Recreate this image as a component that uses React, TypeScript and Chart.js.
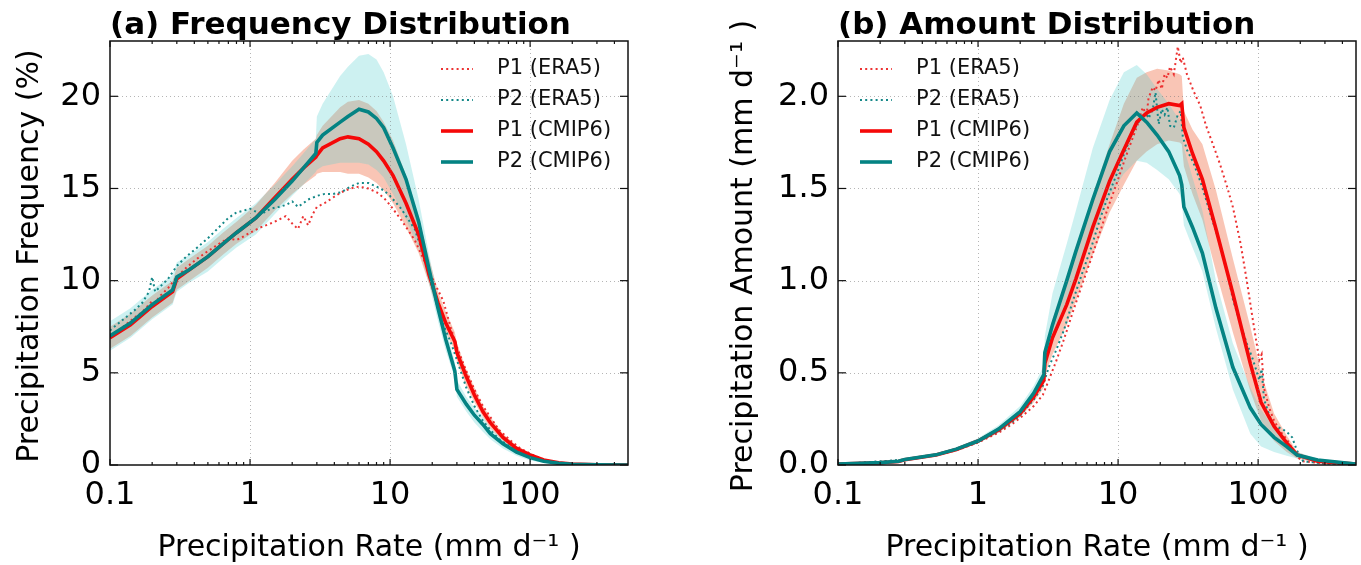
import React, { useEffect, useRef } from 'react';
import { Chart, registerables } from 'chart.js';

Chart.register(...registerables);

// ---------------- data ----------------
const SERIES_LABELS = ['P1 (ERA5)', 'P2 (ERA5)', 'P1 (CMIP6)', 'P2 (CMIP6)'];

const X_TICKS = [0.1, 1, 10, 100];
const X_TICK_LABELS = ['0.1', '1', '10', '100'];
const X_MINOR_TICKS = [0.2, 0.3, 0.4, 0.5, 0.6, 0.7, 0.8, 0.9, 2, 3, 4, 5, 6, 7, 8, 9, 20, 30, 40, 50, 60, 70, 80, 90, 200, 300, 400];

const FREQ_Y_TICKS = [0, 5, 10, 15, 20];
const FREQ_Y_LABELS = ['0', '5', '10', '15', '20'];
const AMT_Y_TICKS = [0, 0.5, 1, 1.5, 2];
const AMT_Y_LABELS = ['0.0', '0.5', '1.0', '1.5', '2.0'];

// Panel (a): frequency distribution (%), CMIP6 grid
const RATE_A = [0.1, 0.14, 0.2, 0.28, 0.3, 0.37, 0.5, 0.64, 0.8, 1.1, 1.5, 2, 2.4, 2.95, 3.0, 3.3, 4.4, 5, 6, 7, 8, 9, 10.5, 13, 16, 19, 22, 25, 29, 30, 35, 40, 46, 52, 64, 80, 100, 125, 160, 200, 300, 500];
const P1_CMIP6_FREQ = [6.9, 7.6, 8.6, 9.4, 10.1, 10.6, 11.3, 12.0, 12.6, 13.4, 14.5, 15.5, 16.1, 16.7, 16.8, 17.2, 17.7, 17.8, 17.7, 17.4, 17.0, 16.5, 15.7, 14.2, 12.5, 10.3, 8.8, 7.7, 6.7, 6.1, 4.8, 3.8, 2.9, 2.3, 1.5, 0.9, 0.55, 0.27, 0.12, 0.05, 0.015, 0.005];
const P2_CMIP6_FREQ = [7.0, 7.7, 8.7, 9.5, 10.2, 10.6, 11.3, 12.0, 12.6, 13.4, 14.4, 15.4, 16.1, 16.9, 17.5, 17.9, 18.6, 18.9, 19.3, 19.15, 18.8, 18.3, 17.2, 15.5, 13.2, 10.6, 8.5, 6.8, 5.1, 4.1, 3.3, 2.7, 2.2, 1.7, 1.15, 0.7, 0.4, 0.2, 0.09, 0.04, 0.01, 0.004];
const P1_CMIP6_FREQ_LO = [6.3, 7.0, 8.0, 8.8, 9.5, 10.0, 10.7, 11.4, 12.0, 12.7, 13.8, 14.7, 15.2, 15.7, 15.8, 15.9, 15.9, 15.8, 15.8, 15.6, 15.3, 14.9, 14.2, 12.9, 11.5, 9.8, 8.3, 7.2, 6.2, 5.6, 4.3, 3.4, 2.6, 2.0, 1.3, 0.75, 0.45, 0.2, 0.08, 0.03, 0.01, 0.002];
const P1_CMIP6_FREQ_HI = [7.5, 8.2, 9.2, 10.0, 10.7, 11.2, 11.9, 12.6, 13.2, 14.1, 15.3, 16.5, 17.1, 17.7, 17.9, 18.4, 19.4, 19.7, 19.8, 19.6, 19.2, 18.6, 17.6, 15.7, 13.4, 11.2, 9.4, 8.3, 7.2, 6.6, 5.2, 4.2, 3.2, 2.6, 1.7, 1.05, 0.65, 0.34, 0.16, 0.07, 0.02, 0.008];
const P2_CMIP6_FREQ_LO = [6.2, 6.9, 7.9, 8.7, 9.4, 9.9, 10.5, 11.2, 11.8, 12.5, 13.6, 14.6, 15.2, 15.9, 16.0, 16.2, 16.4, 16.4, 16.4, 16.3, 16.0, 15.6, 14.7, 13.3, 11.8, 9.8, 7.8, 6.2, 4.7, 3.7, 2.9, 2.3, 1.8, 1.4, 0.9, 0.5, 0.25, 0.12, 0.05, 0.02, 0.005, 0.001];
const P2_CMIP6_FREQ_HI = [7.8, 8.5, 9.5, 10.3, 11.0, 11.4, 12.1, 12.8, 13.4, 14.2, 15.2, 16.2, 16.9, 17.7, 18.9, 19.6, 21.1, 21.6, 22.2, 22.3, 22.0, 21.3, 20.0, 17.4, 14.4, 11.4, 9.1, 7.4, 5.6, 4.6, 3.7, 3.1, 2.6, 2.0, 1.4, 0.9, 0.55, 0.3, 0.14, 0.06, 0.02, 0.007];

// Panel (a): ERA5 grid
const RATE_ERA_A = [0.1, 0.12, 0.15, 0.17, 0.19, 0.2, 0.21, 0.23, 0.26, 0.3, 0.35, 0.42, 0.5, 0.6, 0.7, 0.8, 0.9, 1.0, 1.2, 1.4, 1.6, 1.8, 2.0, 2.2, 2.4, 2.6, 2.8, 3.0, 3.4, 3.9, 4.5, 5.2, 6, 7, 8, 9, 10, 12, 15, 18, 21, 24, 27, 30, 35, 40, 46, 52, 60, 72, 85, 105, 130, 160, 200, 300, 500];
const P1_ERA5_FREQ = [7.0, 7.4, 8.0, 8.3, 8.7, 8.9, 8.8, 9.2, 9.6, 10.2, 10.7, 11.2, 11.6, 12.0, 12.3, 12.2, 12.4, 12.6, 12.9, 13.1, 13.3, 13.5, 13.1, 12.8, 13.5, 13.0, 13.6, 14.0, 14.2, 14.5, 14.8, 15.0, 15.1, 15.0, 14.8, 14.5, 14.1, 13.3, 12.2, 10.9, 9.8, 8.9, 7.5, 6.4, 5.1, 4.1, 3.2, 2.6, 1.9, 1.35, 0.9, 0.54, 0.25, 0.1, 0.04, 0.01, 0.003];
const P2_ERA5_FREQ = [7.3, 7.8, 8.4, 8.8, 9.4, 10.2, 9.4, 9.7, 10.1, 10.8, 11.3, 11.8, 12.3, 12.9, 13.4, 13.7, 13.8, 13.9, 13.6, 13.9, 14.0, 14.1, 14.3, 14.0, 14.2, 14.4, 14.5, 14.6, 14.7, 14.7, 14.8, 15.1, 15.3, 15.3, 15.1, 14.9, 14.6, 13.9, 12.8, 11.0, 9.0, 7.6, 6.7, 5.7, 4.2, 3.2, 2.4, 1.9, 1.4, 1.0, 0.65, 0.4, 0.2, 0.08, 0.03, 0.01, 0.003];

// Panel (b): amount distribution (mm/d), CMIP6 grid
const RATE_B = [0.1, 0.2, 0.27, 0.3, 0.5, 0.7, 1.0, 1.4, 2.0, 2.5, 2.95, 3.0, 3.4, 4.3, 5, 6.6, 8.7, 11, 13.6, 16, 19, 23, 27.5, 28.5, 29.5, 34, 40, 50, 66, 88, 105, 130, 160, 190, 266, 500];
const P1_CMIP6_AMT = [0.005, 0.012, 0.019, 0.028, 0.054, 0.084, 0.13, 0.19, 0.28, 0.37, 0.46, 0.55, 0.69, 0.87, 1.01, 1.29, 1.54, 1.71, 1.86, 1.91, 1.94, 1.96, 1.95, 1.96, 1.83, 1.69, 1.55, 1.28, 0.93, 0.55, 0.34, 0.21, 0.12, 0.055, 0.02, 0.005];
const P2_CMIP6_AMT = [0.005, 0.013, 0.02, 0.03, 0.055, 0.086, 0.13, 0.195, 0.29, 0.39, 0.49, 0.61, 0.76, 1.0, 1.16, 1.44, 1.70, 1.84, 1.91, 1.86, 1.79, 1.70, 1.57, 1.52, 1.40, 1.29, 1.15, 0.85, 0.53, 0.31, 0.22, 0.15, 0.10, 0.054, 0.027, 0.005];
const P1_CMIP6_AMT_LO = [0.003, 0.009, 0.015, 0.023, 0.048, 0.076, 0.12, 0.175, 0.26, 0.34, 0.42, 0.49, 0.6, 0.76, 0.89, 1.14, 1.37, 1.52, 1.65, 1.7, 1.74, 1.76, 1.75, 1.74, 1.62, 1.47, 1.33, 1.05, 0.72, 0.4, 0.24, 0.13, 0.07, 0.035, 0.012, 0.002];
const P1_CMIP6_AMT_HI = [0.007, 0.015, 0.023, 0.033, 0.06, 0.092, 0.14, 0.205, 0.30, 0.40, 0.50, 0.62, 0.79, 1.0, 1.16, 1.46, 1.74, 1.96, 2.1, 2.13, 2.15, 2.14, 2.12, 2.11, 1.92, 1.82, 1.74, 1.49, 1.12, 0.75, 0.5, 0.28, 0.16, 0.07, 0.03, 0.008];
const P2_CMIP6_AMT_LO = [0.003, 0.010, 0.016, 0.025, 0.048, 0.077, 0.12, 0.175, 0.26, 0.35, 0.44, 0.55, 0.67, 0.86, 1.0, 1.25, 1.46, 1.58, 1.65, 1.64, 1.60, 1.55, 1.47, 1.43, 1.30, 1.18, 1.05, 0.74, 0.41, 0.17, 0.1, 0.07, 0.05, 0.035, 0.015, 0.002];
const P2_CMIP6_AMT_HI = [0.008, 0.016, 0.025, 0.036, 0.063, 0.096, 0.145, 0.215, 0.32, 0.43, 0.54, 0.70, 0.93, 1.2, 1.38, 1.72, 1.98, 2.13, 2.17, 2.12, 2.04, 1.96, 1.87, 1.83, 1.72, 1.56, 1.38, 1.0, 0.66, 0.42, 0.3, 0.2, 0.13, 0.07, 0.035, 0.008];

// Panel (b): ERA5 grid
const RATE_ERA_B = [0.1, 0.3, 0.5, 0.7, 1.0, 1.4, 1.7, 2.0, 2.5, 2.9, 3.2, 3.6, 4.1, 4.8, 5.6, 6.5, 7.4, 8.5, 9.8, 11.2, 12.8, 14, 15, 16, 16.5, 17.7, 18.5, 19.5, 20.5, 21.5, 22.5, 23.5, 25, 26.7, 28, 29, 31, 34.5, 38.6, 42.5, 47, 53, 60, 66, 75, 83, 92, 102, 106, 110, 120, 130, 145, 160, 175, 189, 210, 300, 500];
const P1_ERA5_AMT = [0.004, 0.027, 0.052, 0.08, 0.122, 0.175, 0.215, 0.255, 0.32, 0.38, 0.46, 0.56, 0.68, 0.84, 0.99, 1.13, 1.26, 1.40, 1.53, 1.66, 1.78, 1.86, 1.94, 1.90, 1.99, 2.05, 2.03, 2.09, 2.04, 2.12, 2.10, 2.16, 2.12, 2.27, 2.18, 2.21, 2.12, 2.03, 1.95, 1.84, 1.75, 1.64, 1.51, 1.40, 1.20, 1.00, 0.78, 0.57, 0.60, 0.42, 0.31, 0.24, 0.18, 0.14, 0.09, 0.045, 0.02, 0.008, 0.002];
const P2_ERA5_AMT = [0.004, 0.029, 0.054, 0.083, 0.126, 0.183, 0.225, 0.27, 0.355, 0.43, 0.53, 0.62, 0.73, 0.9, 1.05, 1.19, 1.33, 1.46, 1.58, 1.70, 1.81, 1.86, 1.89, 1.91, 1.88, 1.93, 2.02, 1.85, 1.93, 1.90, 1.94, 1.84, 1.83, 1.90, 1.92, 1.78, 1.71, 1.64, 1.54, 1.44, 1.33, 1.21, 1.05, 0.90, 0.76, 0.66, 0.57, 0.46, 0.52, 0.36, 0.27, 0.21, 0.2, 0.18, 0.15, 0.08, 0.02, 0.008, 0.002];

// ---------------- styles ----------------
const FONT = '"DejaVu Sans", "Liberation Sans", sans-serif';
const RED = 'rgb(245,8,8)';
const TEAL = 'rgb(4,131,131)';
const RED_DOT = 'rgb(236,50,50)';
const TEAL_DOT = 'rgb(20,136,136)';
const SALMON_FILL = 'rgba(240,110,70,0.4)';
const CYAN_FILL = 'rgba(90,210,210,0.3)';
const GRID_COLOR = 'rgba(120,120,120,0.55)';
const AXIS_COLOR = '#111';
const X_LABEL = 'Precipitation Rate (mm d\u207B\u00B9 )';

type PanelSpec = {
  title: string;
  yLabel: string;
  yMax: number;
  yTicks: number[];
  yTickLabels: string[];
  rate: number[]; rateEra: number[];
  p1: number[]; p2: number[]; p1Lo: number[]; p1Hi: number[]; p2Lo: number[]; p2Hi: number[];
  p1Era: number[]; p2Era: number[];
  width: number;
  yAxisWidth: number;
  padRight: number;
  legendX: number;
  yLabelX: number;
};

const PANEL_A: PanelSpec = {
  title: '(a) Frequency Distribution',
  yLabel: 'Precipitation Frequency (%)',
  yMax: 23, yTicks: FREQ_Y_TICKS, yTickLabels: FREQ_Y_LABELS,
  rate: RATE_A, rateEra: RATE_ERA_A,
  p1: P1_CMIP6_FREQ, p2: P2_CMIP6_FREQ, p1Lo: P1_CMIP6_FREQ_LO, p1Hi: P1_CMIP6_FREQ_HI, p2Lo: P2_CMIP6_FREQ_LO, p2Hi: P2_CMIP6_FREQ_HI,
  p1Era: P1_ERA5_FREQ, p2Era: P2_ERA5_FREQ,
  width: 680, yAxisWidth: 110, padRight: 52, legendX: 441, yLabelX: 38,
};

const PANEL_B: PanelSpec = {
  title: '(b) Amount Distribution',
  yLabel: 'Precipitation Amount (mm d\u207B\u00B9 )',
  yMax: 2.3, yTicks: AMT_Y_TICKS, yTickLabels: AMT_Y_LABELS,
  rate: RATE_B, rateEra: RATE_ERA_B,
  p1: P1_CMIP6_AMT, p2: P2_CMIP6_AMT, p1Lo: P1_CMIP6_AMT_LO, p1Hi: P1_CMIP6_AMT_HI, p2Lo: P2_CMIP6_AMT_LO, p2Hi: P2_CMIP6_AMT_HI,
  p1Era: P1_ERA5_AMT, p2Era: P2_ERA5_AMT,
  width: 681, yAxisWidth: 158, padRight: 5, legendX: 180, yLabelX: 72,
};

function pts(xs: number[], ys: number[]) {
  return xs.map((x, i) => ({ x, y: ys[i] }));
}

const LEGEND_STYLE = [
  { color: RED_DOT, width: 2, dash: [2, 3.2] },
  { color: TEAL_DOT, width: 2, dash: [2, 3.2] },
  { color: RED, width: 3.6, dash: [] as number[] },
  { color: TEAL, width: 3.6, dash: [] as number[] },
];
const LEGEND_ROWS = [69, 100, 131, 162];

function decorPlugin(p: PanelSpec) {
  return {
    id: 'decor',
    afterDatasetsDraw(chart: any) {
      const { ctx, chartArea: a } = chart;
      const xs = chart.scales.x;
      const ys = chart.scales.y;
      ctx.save();
      const seg = (x1: number, y1: number, x2: number, y2: number) => {
        ctx.beginPath(); ctx.moveTo(x1, y1); ctx.lineTo(x2, y2); ctx.stroke();
      };
      // grid
      ctx.lineWidth = 1; ctx.strokeStyle = GRID_COLOR; ctx.setLineDash([1, 3]);
      X_TICKS.forEach((v) => {
        const px = Math.round(xs.getPixelForValue(v)) + 0.5;
        if (px > a.left + 2 && px < a.right - 2) seg(px, a.top, px, a.bottom);
      });
      p.yTicks.forEach((v) => {
        const py = Math.round(ys.getPixelForValue(v)) + 0.5;
        if (py > a.top + 2 && py < a.bottom - 2) seg(a.left, py, a.right, py);
      });
      ctx.setLineDash([]);
      // ticks (inside, all four sides)
      ctx.strokeStyle = AXIS_COLOR; ctx.lineWidth = 1.2;
      X_TICKS.forEach((v) => {
        const px = xs.getPixelForValue(v);
        seg(px, a.bottom, px, a.bottom - 6); seg(px, a.top, px, a.top + 6);
      });
      X_MINOR_TICKS.forEach((v) => {
        const px = xs.getPixelForValue(v);
        seg(px, a.bottom, px, a.bottom - 3); seg(px, a.top, px, a.top + 3);
      });
      p.yTicks.forEach((v) => {
        const py = ys.getPixelForValue(v);
        seg(a.left, py, a.left + 8, py); seg(a.right, py, a.right - 8, py);
      });
      // frame
      ctx.lineWidth = 1.5;
      ctx.strokeRect(a.left, a.top, a.right - a.left, a.bottom - a.top);
      // legend
      ctx.font = `21px ${FONT}`; ctx.textAlign = 'left'; ctx.textBaseline = 'middle'; ctx.fillStyle = '#111';
      LEGEND_STYLE.forEach((st, i) => {
        const y = LEGEND_ROWS[i];
        ctx.strokeStyle = st.color; ctx.lineWidth = st.width; ctx.setLineDash(st.dash);
        seg(p.legendX, y, p.legendX + 32, y);
        ctx.setLineDash([]);
        ctx.fillText(SERIES_LABELS[i], p.legendX + 56, y);
      });
      // texts
      ctx.fillStyle = '#000'; ctx.textBaseline = 'alphabetic';
      ctx.font = `bold 31px ${FONT}`; ctx.textAlign = 'left';
      ctx.fillText(p.title, a.left, 34);
      ctx.font = `30px ${FONT}`; ctx.textAlign = 'center';
      ctx.fillText(X_LABEL, (a.left + a.right) / 2, 556);
      ctx.save();
      ctx.translate(p.yLabelX, 256); ctx.rotate(-Math.PI / 2);
      ctx.fillText(p.yLabel, 0, 0);
      ctx.restore();
      ctx.restore();
    },
  };
}

function buildConfig(p: PanelSpec): any {
  const noBorder = 'rgba(0,0,0,0)';
  const base = { pointRadius: 0, pointHoverRadius: 0, tension: 0 };
  return {
    type: 'line',
    data: {
      datasets: [
        // index 0 is painted last (on top)
        { ...base, label: SERIES_LABELS[3], data: pts(p.rate, p.p2), borderColor: TEAL, borderWidth: 3.6, fill: false },
        { ...base, label: SERIES_LABELS[2], data: pts(p.rate, p.p1), borderColor: RED, borderWidth: 3.6, fill: false },
        { ...base, label: SERIES_LABELS[1], data: pts(p.rateEra, p.p2Era), borderColor: TEAL_DOT, borderWidth: 2, borderDash: [2, 3.2], fill: false },
        { ...base, label: SERIES_LABELS[0], data: pts(p.rateEra, p.p1Era), borderColor: RED_DOT, borderWidth: 2, borderDash: [2, 3.2], fill: false },
        { ...base, label: 'P2 range (upper)', data: pts(p.rate, p.p2Hi), borderColor: noBorder, borderWidth: 1, backgroundColor: CYAN_FILL, fill: 5 },
        { ...base, label: 'P2 range (lower)', data: pts(p.rate, p.p2Lo), borderColor: noBorder, borderWidth: 1, fill: false },
        { ...base, label: 'P1 range (upper)', data: pts(p.rate, p.p1Hi), borderColor: noBorder, borderWidth: 1, backgroundColor: SALMON_FILL, fill: 7 },
        { ...base, label: 'P1 range (lower)', data: pts(p.rate, p.p1Lo), borderColor: noBorder, borderWidth: 1, fill: false },
      ],
    },
    options: {
      responsive: false,
      animation: false,
      devicePixelRatio: 1,
      layout: { padding: { top: 41, right: p.padRight, left: 0, bottom: 0 } },
      plugins: {
        legend: { display: false },
        tooltip: { enabled: false },
        title: { display: false },
        filler: { propagate: false, drawTime: 'beforeDatasetsDraw' },
      },
      scales: {
        x: {
          type: 'logarithmic', min: 0.1, max: 500,
          grid: { display: false, drawTicks: false }, border: { display: false },
          ticks: {
            font: { family: FONT, size: 32 }, color: '#000', padding: 11,
            autoSkip: false, maxRotation: 0, minRotation: 0,
            callback: (_v: any, i: number) => X_TICK_LABELS[i],
          },
          afterBuildTicks: (s: any) => { s.ticks = X_TICKS.map((value) => ({ value })); },
          afterFit: (s: any) => { s.height = 100; },
        },
        y: {
          type: 'linear', min: 0, max: p.yMax,
          grid: { display: false, drawTicks: false }, border: { display: false },
          ticks: {
            font: { family: FONT, size: 32 }, color: '#000', padding: 9, autoSkip: false,
            callback: (_v: any, i: number) => p.yTickLabels[i],
          },
          afterBuildTicks: (s: any) => { s.ticks = p.yTicks.map((value) => ({ value })); },
          afterFit: (s: any) => { s.width = p.yAxisWidth; },
        },
      },
    },
    plugins: [decorPlugin(p)],
  };
}

function Panel({ spec, left }: { spec: PanelSpec; left: number }) {
  const ref = useRef<HTMLCanvasElement | null>(null);
  useEffect(() => {
    if (!ref.current) return;
    const chart = new Chart(ref.current, buildConfig(spec));
    return () => chart.destroy();
  }, [spec]);
  return (
    <canvas
      ref={ref}
      width={spec.width}
      height={565}
      style={{ position: 'absolute', left, top: 0, width: spec.width, height: 565 }}
    />
  );
}

export default function App() {
  return (
    <div style={{ position: 'absolute', left: 0, top: 0, width: 1361, height: 565, background: '#fff', overflow: 'hidden' }}>
      <Panel spec={PANEL_A} left={0} />
      <Panel spec={PANEL_B} left={680} />
    </div>
  );
}
